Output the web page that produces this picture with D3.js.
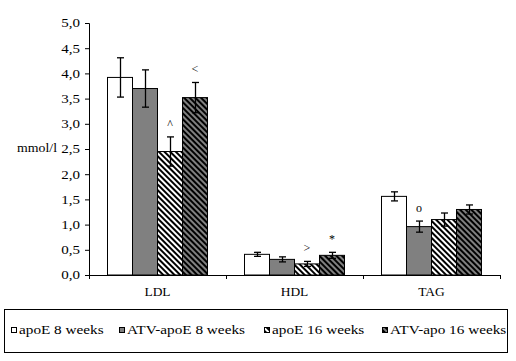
<!DOCTYPE html>
<html>
<head>
<meta charset="utf-8">
<script src="https://cdn.jsdelivr.net/npm/d3@7"></script>
<style>
  body { margin: 0; background: #fff; }
  svg text { font-family: "Liberation Serif", "Times New Roman", serif; font-size: 12px; fill: #000; }
</style>
</head>
<body>
<svg id="chart" width="516" height="361"></svg>
<script>
'use strict';

var categories = ['LDL', 'HDL', 'TAG'];
var seriesNames = ['apoE 8 weeks', 'ATV-apoE 8 weeks', 'apoE 16 weeks', 'ATV-apo 16 weeks'];
// values[series][category]
var values = [
    [3.92, 0.41, 1.56],
    [3.70, 0.31, 0.96],
    [2.45, 0.22, 1.10],
    [3.52, 0.39, 1.30]
];
var errors = [
    [0.39, 0.04, 0.09],
    [0.37, 0.05, 0.11],
    [0.29, 0.05, 0.13],
    [0.30, 0.06, 0.09]
];
// significance markers: [series, category, symbol]
var markers = [
    [2, 0, '^'],
    [3, 0, '<'],
    [2, 1, '>'],
    [3, 1, '*'],
    [1, 2, 'o']
];
var yTicks = [0, 0.5, 1, 1.5, 2, 2.5, 3, 3.5, 4, 4.5, 5];

var svg = d3.select('#chart');
var plotLeft = 89, plotRight = 500, plotTop = 23, plotBottom = 275;

// the original font renders wider than Liberation Serif, stretch it a bit
function stretch(sel, k) {
    sel.each(function() {
        var len = this.getComputedTextLength();
        d3.select(this).attr('textLength', len * k).attr('lengthAdjust', 'spacingAndGlyphs');
    });
}

var defs = svg.append('defs');
function hatch(id, bg) {
    var p = defs.append('pattern')
        .attr('id', id)
        .attr('patternUnits', 'userSpaceOnUse')
        .attr('width', 4)
        .attr('height', 4)
        .attr('patternTransform', 'rotate(-45)');
    p.append('rect').attr('width', 4).attr('height', 4).attr('fill', bg);
    p.append('rect').attr('x', 0).attr('width', 2).attr('height', 4).attr('fill', '#000');
}
hatch('hatchWhite', '#fff');
hatch('hatchGray', '#808080');
var fills = ['#fff', '#808080', 'url(#hatchWhite)', 'url(#hatchGray)'];

var x = d3.scaleBand().domain(categories).range([plotLeft, plotRight]);
var y = d3.scaleLinear().domain([0, 5]).range([plotBottom, plotTop]);
var barW = 25;
var groupOffset = (x.bandwidth() - barW * seriesNames.length) / 2;

function barX(s, c) {
    return x(categories[c]) + groupOffset + s * barW;
}

// bars
seriesNames.forEach(function(name, s) {
    svg.append('g').selectAll('rect')
        .data(values[s])
        .enter().append('rect')
        .attr('x', function(d, c) { return barX(s, c); })
        .attr('y', function(d) { return y(d); })
        .attr('width', barW)
        .attr('height', function(d) { return y(0) - y(d); })
        .attr('fill', fills[s])
        .attr('stroke', '#000')
        .attr('stroke-width', 1);
});

// error bars
seriesNames.forEach(function(name, s) {
    values[s].forEach(function(v, c) {
        var cx = Math.round(barX(s, c) + barW / 2) + 0.5;
        var e = errors[s][c];
        var g = svg.append('g').attr('stroke', '#000').attr('stroke-width', 1.3);
        g.append('line').attr('x1', cx).attr('x2', cx).attr('y1', y(v + e)).attr('y2', y(v - e));
        g.append('line').attr('x1', cx - 3.5).attr('x2', cx + 3.5).attr('y1', y(v + e)).attr('y2', y(v + e));
        g.append('line').attr('x1', cx - 3.5).attr('x2', cx + 3.5).attr('y1', y(v - e)).attr('y2', y(v - e));
    });
});

// markers
svg.append('g').selectAll('text')
    .data(markers)
    .enter().append('text')
    .attr('x', function(d) { return barX(d[0], d[1]) + barW / 2; })
    .attr('y', function(d) { return y(values[d[0]][d[1]] + errors[d[0]][d[1]]) - 12; })
    .attr('text-anchor', 'middle')
    .attr('dominant-baseline', 'middle')
    .text(function(d) { return d[2]; });

// y axis
var yAxis = svg.append('g')
    .attr('transform', 'translate(' + plotLeft + ',0)')
    .call(d3.axisLeft(y).tickValues(yTicks).tickSize(4).tickPadding(5)
        .tickFormat(function(d) { return d3.format('.1f')(d).replace('.', ','); }));
yAxis.attr('font-family', null).attr('font-size', null);
yAxis.select('.domain').attr('stroke', '#000');
stretch(yAxis.selectAll('text'), 1.25);

// x axis
var xAxis = svg.append('g')
    .attr('transform', 'translate(0,' + plotBottom + ')');
xAxis.append('line')
    .attr('x1', plotLeft).attr('x2', plotRight)
    .attr('y1', 0.5).attr('y2', 0.5)
    .attr('stroke', '#000');
xAxis.selectAll('line.tick')
    .data(categories.concat(['end']))
    .enter().append('line')
    .attr('class', 'tick')
    .attr('x1', function(d, i) { return Math.round(plotLeft + i * x.step()) + 0.5; })
    .attr('x2', function(d, i) { return Math.round(plotLeft + i * x.step()) + 0.5; })
    .attr('y1', 0).attr('y2', 4)
    .attr('stroke', '#000');
stretch(xAxis.selectAll('text.cat')
    .data(categories)
    .enter().append('text')
    .attr('class', 'cat')
    .attr('x', function(d) { return x(d) + x.bandwidth() / 2; })
    .attr('y', 18)
    .attr('text-anchor', 'middle')
    .attr('dominant-baseline', 'middle')
    .text(function(d) { return d; }), 1.12);

stretch(svg.append('text')
    .attr('x', 57)
    .attr('y', y(2.5))
    .attr('text-anchor', 'end')
    .attr('dominant-baseline', 'middle')
    .text('mmol/l'), 1.15);

// legend
var legend = svg.append('g');
legend.append('rect')
    .attr('x', 4.5).attr('y', 309.5)
    .attr('width', 503).attr('height', 43)
    .attr('fill', 'none').attr('stroke', '#000');
var legendX = [11, 119, 264, 382];
seriesNames.forEach(function(name, s) {
    legend.append('rect')
        .attr('x', legendX[s] + 0.5).attr('y', 327.5)
        .attr('width', 5).attr('height', 5)
        .attr('fill', fills[s]).attr('stroke', '#000');
    stretch(legend.append('text')
        .attr('x', legendX[s] + 8)
        .attr('y', 331)
        .attr('dominant-baseline', 'middle')
        .text(name), 1.27);
});
</script>
</body>
</html>
